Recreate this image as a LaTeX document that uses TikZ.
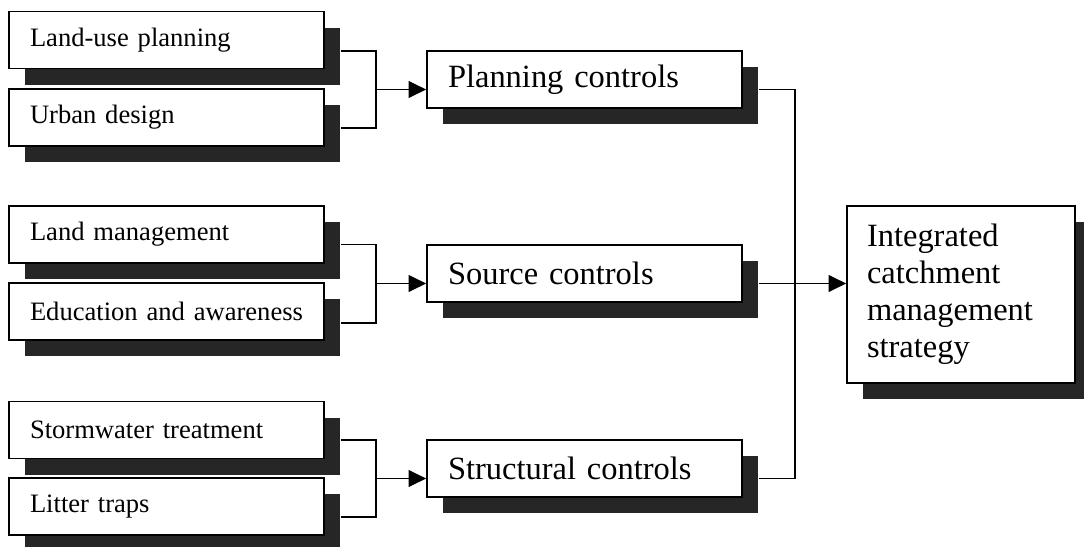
\documentclass[tikz,border=0pt]{standalone}
\usepackage{fontspec}
\setmainfont{Liberation Serif}
\usetikzlibrary{shadows}
\usetikzlibrary{arrows.meta, calc, positioning}

\begin{document}
\begin{tikzpicture}[
    leaf/.style={draw, line width=1.2pt, fill=white, minimum height=1.425cm,
        text width=6.825cm, inner xsep=0.525cm, align=left,
        font=\fontsize{18.9}{22}\selectfont,
        drop shadow={shadow xshift=0.4cm, shadow yshift=-0.4cm, fill=black!85, opacity=1}},
    ctrl/.style={leaf, font=\fontsize{23.1}{26.5}\selectfont},
    goal/.style={leaf, text width=4.7cm, inner xsep=0.5cm, minimum height=4.425cm,
        font=\fontsize{23.1}{26.3}\selectfont},
    link/.style={line width=1.2pt},
    arr/.style={line width=1.2pt, -{Triangle[length=0.44cm, width=0.42cm]}}
  ]

    \useasboundingbox (0,0) rectangle (27.1,-13.65);

    % Left boxes
    \node[leaf] (lup) at (4.1625,-1.0) {Land-use planning};
    \node[leaf] (urb) at (4.1625,-2.9375) {Urban design};
    \node[leaf] (lmg) at (4.1625,-5.8625) {Land management};
    \node[leaf] (edu) at (4.1625,-7.7875) {Education and awareness};
    \node[leaf] (stw) at (4.1625,-10.75) {Stormwater treatment};
    \node[leaf] (lit) at (4.1625,-12.6625) {Litter traps};

    % Controls
    \node[ctrl] (plc) at (14.6125,-1.9875) {Planning controls};
    \node[ctrl] (src) at (14.6125,-6.8375) {Source controls};
    \node[ctrl] (stc) at (14.6125,-11.7125) {Structural controls};

    % Strategy
    \node[goal] (icm) at (24.025,-7.3625) {Integrated\\catchment\\management\\strategy};

    % ================================
    % Brackets

    \draw[link] ($(lup.east)+(0.4,-0.27)$) -| ($(plc.west)+(-1.25,0)$) |- ($(urb.east)+(0.4,-0.27)$);
    \draw[arr] ($(plc.west)+(-1.25,-0.25)$) -- ($(plc.west)+(0,-0.25)$);

    \draw[link] ($(lmg.east)+(0.4,-0.25)$) -| ($(src.west)+(-1.25,0)$) |- ($(edu.east)+(0.4,-0.28)$);
    \draw[arr] ($(src.west)+(-1.25,-0.25)$) -- ($(src.west)+(0,-0.25)$);

    \draw[link] ($(stw.east)+(0.4,-0.25)$) -| ($(stc.west)+(-1.25,0)$) |- ($(lit.east)+(0.4,-0.27)$);
    \draw[arr] ($(stc.west)+(-1.25,-0.25)$) -- ($(stc.west)+(0,-0.25)$);

    % ================================
    % Into the strategy

    \draw[link] ($(plc.east)+(0.4,-0.25)$) -| ($(stc.east)+(1.3,-0.25)$) -- ($(stc.east)+(0.4,-0.25)$);
    \coordinate (srcout) at ($(src.east)+(0.4,-0.25)$);
    \draw[arr] (srcout) -- (srcout -| icm.west);

\end{tikzpicture}
\end{document}
